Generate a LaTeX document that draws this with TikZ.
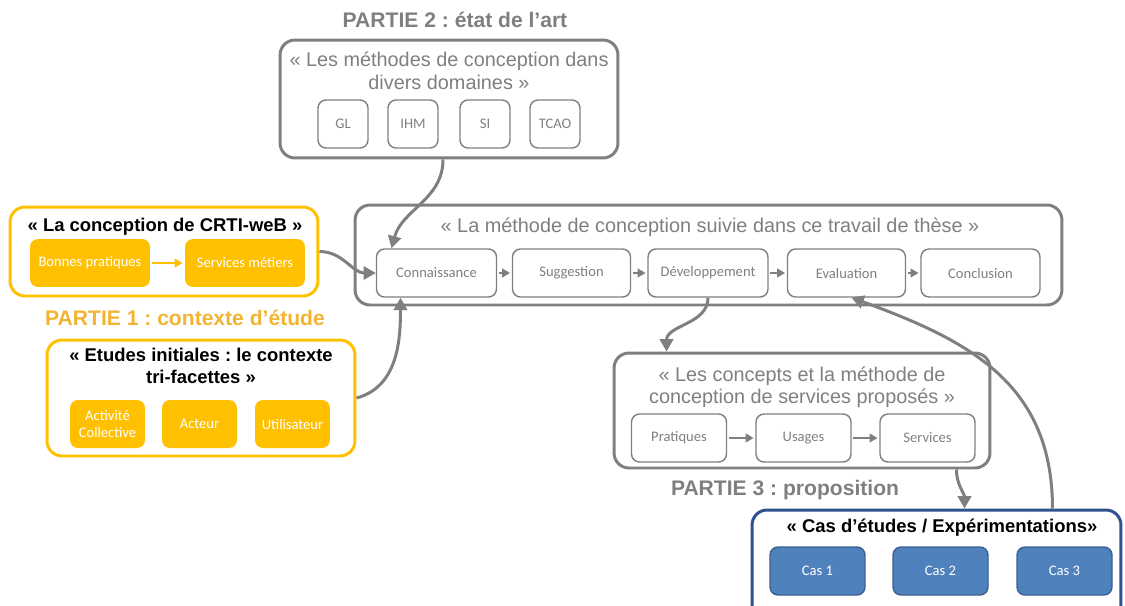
\documentclass[tikz,border=0pt]{standalone}
\usepackage{fontspec}
\setmainfont{Liberation Sans}
\newfontfamily\calib{Carlito}
\usepackage{xcolor}
\usepackage{tikz}
\usetikzlibrary{arrows.meta,calc,positioning}
\definecolor{greyline}{RGB}{127,127,127}
\definecolor{yellowfill}{RGB}{255,192,0}
\definecolor{yellowtext}{RGB}{242,180,50}
\definecolor{bluefill}{RGB}{79,129,189}
\definecolor{blueline}{RGB}{60,96,145}
\definecolor{blueframe}{RGB}{47,82,143}
\newcommand{\titlefont}{\fontsize{11.3}{12.8}\selectfont}
\newcommand{\boldtitle}{\fontsize{10.5}{12.8}\selectfont\bfseries}
\frenchspacing

\begin{document}
\begin{tikzpicture}[x=0.02cm,y=-0.02cm,
  frame/.style={draw=greyline,line width=1.7pt,rounded corners=0.3cm,inner sep=0pt},
  yframe/.style={frame,draw=yellowfill},
  bframe/.style={frame,draw=blueframe},
  gbox/.style={draw=greyline,line width=0.8pt,rounded corners=0.16cm,text=greyline,
    font=\calib\fontsize{8.3}{9.5}\selectfont,minimum height=0.96cm,align=center,inner sep=1pt},
  ybox/.style={gbox,draw=none,fill=yellowfill,text=white},
  bbox/.style={gbox,draw=blueline,fill=bluefill,text=white},
  flow/.style={draw=greyline,line width=0.8pt,-{Triangle[length=4.5pt,width=5pt]},shorten <=1pt,shorten >=1pt},
  link/.style={draw=greyline,line width=1.7pt,-{Triangle[length=7pt,width=7.5pt]}}]
  \useasboundingbox (0,0) rectangle (1125,605);
  \node[font=\fontsize{12}{14}\selectfont\bfseries,text=greyline] (part2) at (455,20) {PARTIE 2 : état de l’art};
  \node[frame,minimum width=6.76cm,minimum height=2.36cm] (art) at (449,99) {};
  \node[font=\titlefont,text=greyline,align=center] (arttitle) at (449,71) {« Les méthodes de conception dans\\divers domaines »};
  \foreach \x/\lab/\nm in {343/GL/gl,413/IHM/ihm,485/SI/si,555/TCAO/tcao}
    \node[gbox,minimum width=1.0cm] (\nm) at (\x,124) {\lab};
  \node[frame,minimum width=14.14cm,minimum height=2.0cm] (meth) at (708.5,255) {};
  \node[font=\titlefont,text=greyline] (methtitle) at (710,227) {« La méthode de conception suivie dans ce travail de thèse »};
  \node[gbox,minimum width=2.4cm] (conn) at (436.5,273) {Connaissance};
  \node[gbox,minimum width=2.36cm] (sugg) at (571.5,273) {Suggestion};
  \node[gbox,minimum width=2.4cm] (dev) at (708,273) {Développement};
  \node[gbox,minimum width=2.36cm] (eval) at (846.5,273) {Evaluation};
  \node[gbox,minimum width=2.38cm] (concl) at (980.5,273) {Conclusion};
  \foreach \a/\b in {conn/sugg,sugg/dev,dev/eval,eval/concl}
    \draw[flow] (\a) -- (\b);
  \node[yframe,minimum width=6.16cm,minimum height=1.78cm] (crti) at (164,251.5) {};
  \node[font=\boldtitle] (crtititle) at (165,227) {« La conception de CRTI-weB »};
  \node[ybox,minimum width=2.4cm] (bonnes) at (90,263) {Bonnes pratiques};
  \node[ybox,minimum width=2.4cm] (metiers) at (245,263) {Services métiers};
  \draw[flow,draw=yellowfill] (bonnes) -- (metiers);
  \node[font=\fontsize{12}{14}\selectfont\bfseries,text=yellowtext] (part1) at (185,318) {PARTIE 1 : contexte d’étude};
  \node[yframe,minimum width=6.16cm,minimum height=2.32cm] (etud) at (201,398) {};
  \node[font=\boldtitle,align=center] (etudtitle) at (201,366) {« Etudes initiales : le contexte\\tri-facettes »};
  \foreach \x/\lab/\nm in {107.5/Activité\\Collective/activ,199.5/Acteur/acteur,292.5/Utilisateur/util}
    \node[ybox,minimum width=1.5cm] (\nm) at (\x,424) {\lab};
  \node[frame,minimum width=7.52cm,minimum height=2.3cm] (prop) at (802,410.5) {};
  \node[font=\titlefont,text=greyline,align=center] (proptitle) at (802,387) {« Les concepts et la méthode de\\conception de services proposés »};
  \node[gbox,minimum width=1.9cm] (prat) at (679,438) {Pratiques};
  \node[gbox,minimum width=1.9cm] (usag) at (803.5,438) {Usages};
  \node[gbox,minimum width=1.9cm] (serv) at (927.5,438) {Services};
  \draw[flow] (prat) -- (usag);
  \draw[flow] (usag) -- (serv);
  \node[font=\fontsize{12}{14}\selectfont\bfseries,text=greyline] (part3) at (785,490) {PARTIE 3 : proposition};
  \node[bframe,minimum width=7.38cm,minimum height=2.2cm] (cas) at (936.5,565) {};
  \node[font=\boldtitle] (castitle) at (942,528) {« Cas d’études / Expérimentations»};
  \foreach \x/\lab/\nm in {817.5/Cas 1/cas1,940.5/Cas 2/cas2,1064.5/Cas 3/cas3}
    \node[bbox,minimum width=1.9cm] (\nm) at (\x,571) {\lab};
  \draw[link] ([xshift=-0.12cm]art.south) to[out=-90,in=75] ([xshift=-0.9cm]conn.north);
  \draw[link] (crti.east) to[out=0,in=180] (conn.west);
  \draw[link] (etud.east) to[out=15,in=-90] ([xshift=-0.72cm]conn.south);
  \draw[link] (dev.south) to[out=-90,in=90] ([xshift=1.08cm]prop.north west);
  \draw[link] ([xshift=-0.7cm]prop.south east) to[out=-90,in=90] ([xshift=0.56cm]cas.north);
  \draw[link] ([xshift=-1.4cm]cas.north east) to[out=90,in=-20,looseness=1.1] ([xshift=0.1cm]eval.south);
\end{tikzpicture}
\end{document}
